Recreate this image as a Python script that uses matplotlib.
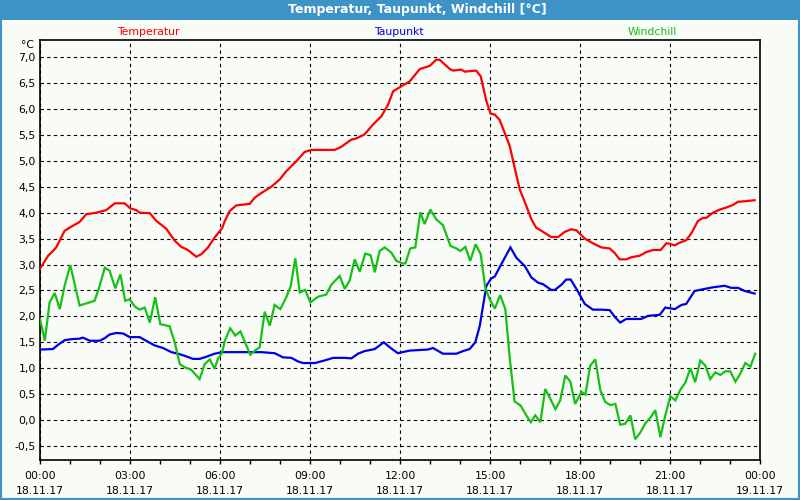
import matplotlib
matplotlib.use("Agg")
import matplotlib.pyplot as plt
from matplotlib.patches import Rectangle
from matplotlib.ticker import FixedLocator, MultipleLocator

# ---------------- data (hours since 18.11.17 00:00, °C) ----------------
temp_h = [0, 0.27, 0.43, 0.54, 0.82, 1.04, 1.32, 1.54, 1.88, 2.21, 2.49, 2.82, 3.02, 3.21, 3.32,
          3.66, 3.88, 4.21, 4.49, 4.71, 4.93, 5.21, 5.38, 5.6, 5.82, 6.07, 6.16, 6.32, 6.54, 6.99,
          7.16, 7.38, 7.71, 7.99, 8.21, 8.54, 8.82, 9.04, 9.82, 10.04, 10.38, 10.54, 10.82, 11.1,
          11.38, 11.6, 11.77, 12.08, 12.32, 12.66, 12.99, 13.21, 13.32, 13.66, 13.77, 14.04, 14.16,
          14.54, 14.69, 14.88, 15.02, 15.16, 15.32, 15.49, 15.66, 15.82, 15.99, 16.21, 16.38, 16.54,
          16.77, 17.04, 17.27, 17.49, 17.71, 17.88, 18.16, 18.43, 18.71, 18.99, 19.16, 19.32, 19.54,
          19.71, 19.99, 20.21, 20.43, 20.69, 20.88, 20.99, 21.16, 21.32, 21.54, 21.71, 21.93, 22.1,
          22.21, 22.43, 22.66, 22.88, 23.1, 23.27, 23.49, 23.82]
temp_v = [2.92, 3.17, 3.26, 3.33, 3.65, 3.73, 3.82, 3.97, 4.0, 4.05, 4.18, 4.18, 4.08, 4.05, 4.0,
          3.99, 3.84, 3.69, 3.46, 3.34, 3.28, 3.15, 3.20, 3.33, 3.52, 3.70, 3.84, 4.03, 4.14, 4.17,
          4.29, 4.38, 4.5, 4.64, 4.80, 4.99, 5.17, 5.21, 5.21, 5.27, 5.41, 5.43, 5.51, 5.70,
          5.86, 6.08, 6.34, 6.45, 6.53, 6.77, 6.83, 6.95, 6.95, 6.77, 6.74, 6.76, 6.72,
          6.74, 6.63, 6.15, 5.91, 5.89, 5.79, 5.54, 5.28, 4.87, 4.45, 4.13, 3.87, 3.71,
          3.63, 3.53, 3.53, 3.63, 3.68, 3.66, 3.50, 3.41, 3.33, 3.31, 3.22, 3.10, 3.10,
          3.14, 3.17, 3.24, 3.28, 3.28, 3.41, 3.40, 3.37, 3.42, 3.47, 3.60, 3.84, 3.90,
          3.90, 4.0, 4.06, 4.10, 4.15, 4.21, 4.22, 4.24]

dew_h = [0, 0.43, 0.6, 0.82, 1.04, 1.32, 1.43, 1.66, 1.99, 2.16, 2.32, 2.54, 2.77, 2.99, 3.32,
         3.6, 3.82, 4.1, 4.38, 4.6, 4.82, 5.1, 5.32, 5.54, 5.82, 6.07, 6.71, 7.38, 7.82, 8.1, 8.38,
         8.6, 8.77, 9.16, 9.49, 9.77, 10.16, 10.38, 10.6, 10.82, 11.16, 11.46, 11.71, 11.93, 12.32,
         12.93, 13.1, 13.43, 13.88, 14.1, 14.32, 14.51, 14.66, 14.77, 14.88, 15.04, 15.16, 15.38,
         15.68, 15.88, 16.16, 16.38, 16.6, 16.77, 17.04, 17.16, 17.38, 17.54, 17.69, 17.88, 18.16,
         18.43, 18.71, 18.99, 19.16, 19.34, 19.54, 20.04, 20.27, 20.66, 20.84, 21.16, 21.38, 21.54,
         21.82, 22.16, 22.43, 22.82, 23.04, 23.27, 23.49, 23.82]
dew_v = [1.36, 1.37, 1.45, 1.54, 1.56, 1.57, 1.59, 1.53, 1.53, 1.58, 1.65, 1.68, 1.67, 1.60, 1.60,
         1.51, 1.44, 1.39, 1.31, 1.28, 1.24, 1.18, 1.18, 1.22, 1.28, 1.31, 1.31, 1.31, 1.29, 1.21, 1.20,
         1.13, 1.10, 1.10, 1.15, 1.20, 1.20, 1.19, 1.28, 1.33, 1.37, 1.50, 1.38, 1.29, 1.34,
         1.36, 1.39, 1.28, 1.28, 1.33, 1.37, 1.50, 1.82, 2.21, 2.59, 2.73, 2.77, 3.01,
         3.33, 3.13, 2.97, 2.75, 2.65, 2.62, 2.51, 2.51, 2.61, 2.71, 2.71, 2.53, 2.24,
         2.13, 2.13, 2.12, 1.99, 1.88, 1.95, 1.95, 2.01, 2.03, 2.17, 2.14, 2.22, 2.24,
         2.49, 2.53, 2.56, 2.59, 2.55, 2.55, 2.49, 2.44]

wind_h = [0, 0.16, 0.32, 0.49, 0.66, 0.82, 1.01, 1.32, 1.6, 1.82, 1.99, 2.16, 2.32, 2.51, 2.68,
          2.84, 2.99, 3.16, 3.32, 3.49, 3.66, 3.84, 4.01, 4.32, 4.49, 4.66, 4.82, 5.04, 5.32, 5.49,
          5.66, 5.82, 5.93, 6.07, 6.16, 6.34, 6.51, 6.68, 6.88, 7.01, 7.16, 7.32, 7.49, 7.66, 7.82,
          8.01, 8.21, 8.36, 8.51, 8.66, 8.84, 9.01, 9.27, 9.54, 9.71, 9.99, 10.16, 10.32, 10.49,
          10.66, 10.84, 11.02, 11.16, 11.32, 11.49, 11.71, 11.88, 12.1, 12.18, 12.34, 12.51, 12.68,
          12.82, 13.01, 13.21, 13.43, 13.68, 13.88, 14.01, 14.18, 14.34, 14.52, 14.69, 14.84, 14.99,
          15.16, 15.34, 15.51, 15.66, 15.82, 16.02, 16.21, 16.36, 16.51, 16.68, 16.84, 17.01, 17.18,
          17.34, 17.51, 17.68, 17.84, 18.01, 18.04, 18.18, 18.34, 18.51, 18.68, 18.84, 19.01, 19.18,
          19.34, 19.51, 19.68, 19.84, 20.01, 20.18, 20.34, 20.51, 20.68, 20.84, 21.01, 21.18, 21.34,
          21.51, 21.68, 21.84, 22.01, 22.18, 22.34, 22.51, 22.68, 22.84, 23.01, 23.18, 23.34, 23.51,
          23.68, 23.84]
wind_v = [1.95, 1.53, 2.27, 2.45, 2.14, 2.59, 2.99, 2.21, 2.26, 2.30, 2.59, 2.94, 2.88, 2.54, 2.81,
          2.30, 2.33, 2.19, 2.13, 2.17, 1.88, 2.37, 1.85, 1.81, 1.50, 1.08, 1.02, 0.97, 0.79, 1.08,
          1.17, 0.99, 1.18, 1.30, 1.53, 1.77, 1.63, 1.71, 1.44, 1.26, 1.34, 1.40, 2.09, 1.82, 2.22,
          2.14, 2.37, 2.59, 3.12, 2.46, 2.51, 2.27, 2.38, 2.42, 2.61, 2.78, 2.53, 2.69, 3.10,
          2.86, 3.21, 3.18, 2.85, 3.26, 3.33, 3.23, 3.07, 3.02, 3.02, 3.31, 3.33, 4.01,
          3.78, 4.06, 3.87, 3.76, 3.36, 3.31, 3.26, 3.34, 3.07, 3.39, 3.20, 2.56, 2.33,
          2.15, 2.41, 2.14, 1.18, 0.36, 0.28, 0.09, -0.04, 0.09, -0.04, 0.60, 0.41, 0.21,
          0.38, 0.86, 0.74, 0.31, 0.50, 0.55, 0.49, 1.05, 1.17, 0.57, 0.35, 0.29, 0.31,
          -0.09, -0.07, 0.09, -0.37, -0.24, -0.06, 0.04, 0.19, -0.33, 0.08, 0.46, 0.38, 0.58,
          0.72, 1.0, 0.73, 1.15, 1.05, 0.79, 0.92, 0.87, 0.94, 0.94, 0.74, 0.89, 1.10,
          1.03, 1.28]

series_names = ["Temperatur", "Taupunkt", "Windchill"]
series_colors = ["#ff0000", "#0000e6", "#16c016"]
title = "Temperatur, Taupunkt, Windchill [°C]"
x_tick_hours = [0, 3, 6, 9, 12, 15, 18, 21, 24]
x_tick_labels = ["00:00\n18.11.17", "03:00\n18.11.17", "06:00\n18.11.17", "09:00\n18.11.17",
                 "12:00\n18.11.17", "15:00\n18.11.17", "18:00\n18.11.17", "21:00\n18.11.17",
                 "00:00\n19.11.17"]
y_ticks = [-0.5, 0.0, 0.5, 1.0, 1.5, 2.0, 2.5, 3.0, 3.5, 4.0, 4.5, 5.0, 5.5, 6.0, 6.5, 7.0]

# ---------------- figure ----------------
W, H = 800, 500
bg = "#f8fbf6"
frame = "#3d92c6"
fig = plt.figure(figsize=(8, 5), dpi=100, facecolor=bg)
plt.rcParams['font.family'] = ['DejaVu Sans']

# frame + title bar
fig.patches.append(Rectangle((0, 0), 1, 1, transform=fig.transFigure, facecolor="none",
                             edgecolor=frame, linewidth=3, zorder=0))
fig.patches.append(Rectangle((0, 1 - 20 / H), 1, 20 / H, transform=fig.transFigure,
                             facecolor=frame, edgecolor="none", zorder=1))
fig.text(417 / W, 1 - 10 / H, title, color="white", fontsize=9, fontweight="bold",
         ha="center", va="center")

ax = fig.add_axes([40 / W, 40 / H, 720 / W, 420 / H])
ax.set_facecolor(bg)
for s in ax.spines.values():
    s.set_color("black")
    s.set_linewidth(1.2)

lines_data = [(temp_h, temp_v), (dew_h, dew_v), (wind_h, wind_v)]
for (hh, vv), c in zip(lines_data, series_colors):
    ax.plot(hh, vv, color=c, linewidth=1.6, solid_joinstyle="miter", zorder=3)

ax.set_xlim(0, 24)
ax.set_ylim(-0.77, 7.33)
ax.xaxis.set_major_locator(FixedLocator(x_tick_hours))
ax.set_xticklabels(x_tick_labels, fontsize=7.8, linespacing=1.55)
ax.xaxis.set_minor_locator(MultipleLocator(1))
ax.tick_params(axis="x", which="both", direction="out", length=3, width=1, pad=5, colors="black")
ax.set_yticks(y_ticks)
ax.set_yticklabels([f"{v:.1f}".replace(".", ",") for v in y_ticks], fontsize=7.8)
ax.tick_params(axis="y", length=0, pad=3)
ax.grid(True, which="major", color="black", linestyle=(0, (3, 3)), linewidth=0.8)

# series captions above the plot
for name, c, xc in zip(series_names, series_colors, [148, 399, 652]):
    fig.text(xc / W, 1 - 32 / H, name, color=c, fontsize=7.8, ha="center", va="center")
fig.text(34 / W, 1 - 45 / H, "°C", color="black", fontsize=7.8, ha="right", va="center")

fig.savefig("out.png", dpi=100, facecolor=bg)
